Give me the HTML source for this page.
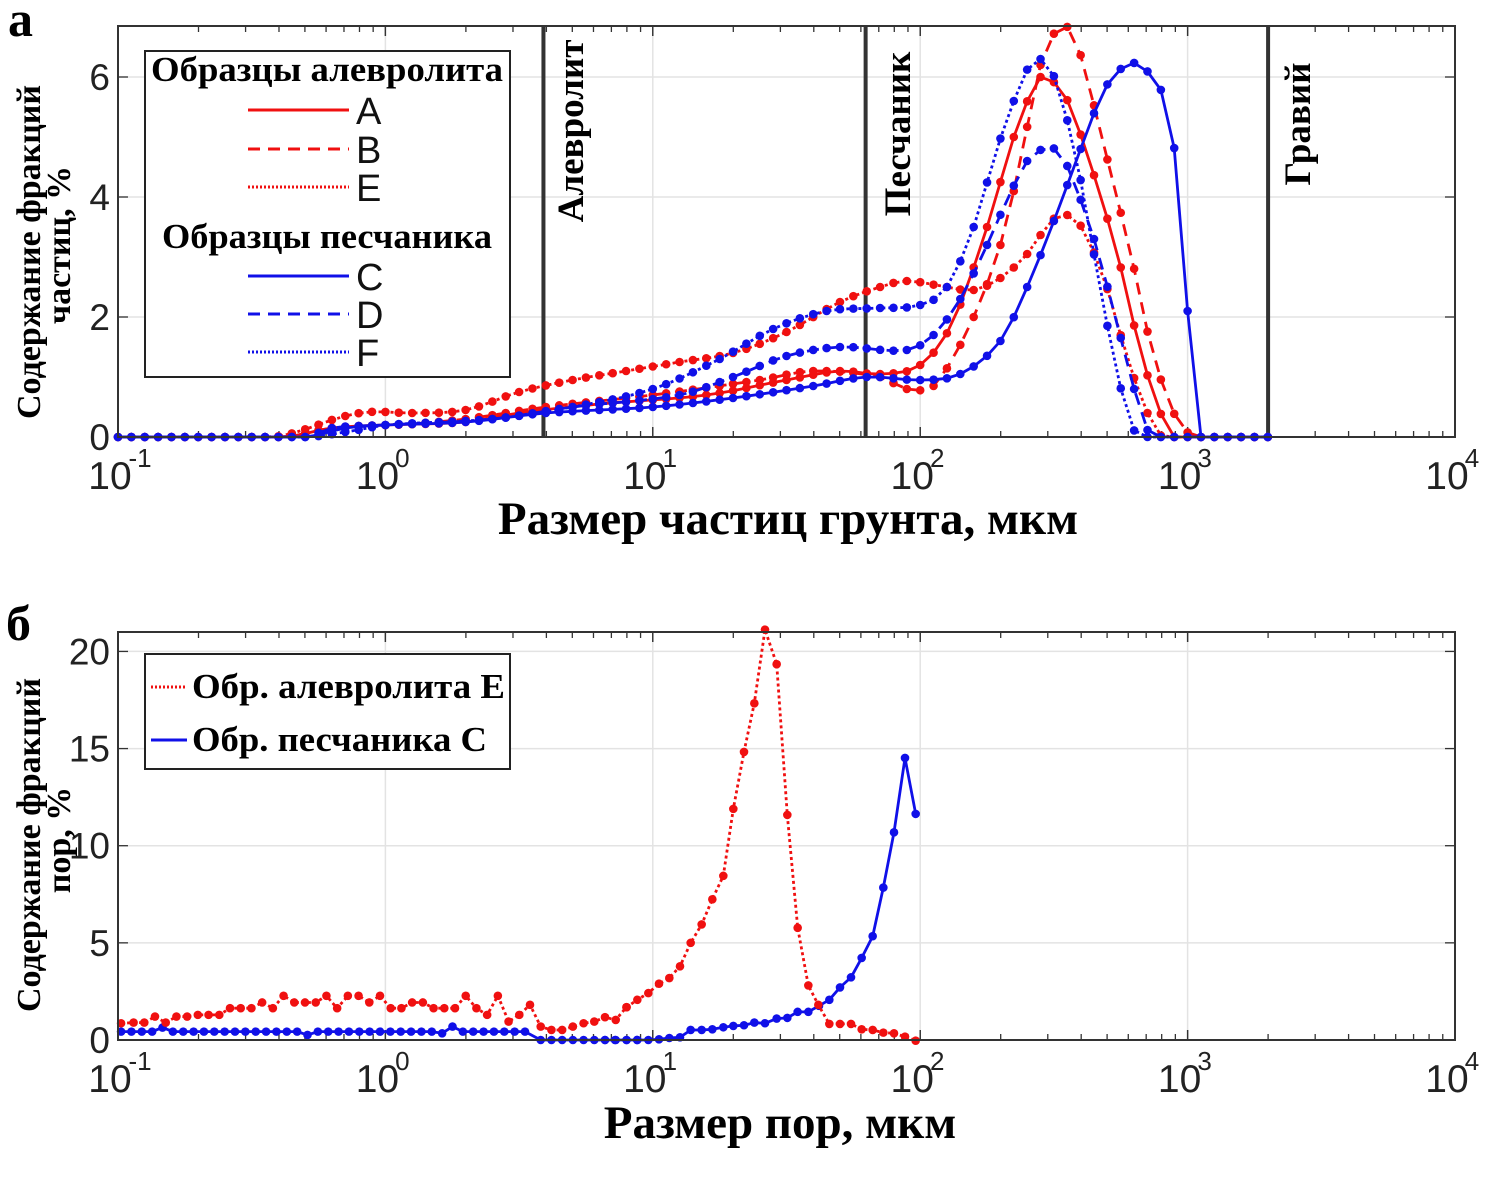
<!DOCTYPE html>
<html><head><meta charset="utf-8">
<style>
html,body{margin:0;padding:0;background:#fff;}
svg{display:block;}
.serif{font-family:"Liberation Serif","DejaVu Serif",serif;font-weight:bold;}
.sans{font-family:"Liberation Sans","DejaVu Sans",sans-serif;}
</style></head>
<body>
<svg id="s" width="1494" height="1180" xmlns="http://www.w3.org/2000/svg">
<rect width="1494" height="1180" fill="#fff"/>
<g id="g1"></g>
<g id="g2"></g>
<text x="8" y="36" class="serif" font-size="50">а</text>
<text x="6" y="640" class="serif" font-size="50">б</text>
<text class="serif" font-size="34" transform="translate(40,252) rotate(-90)" text-anchor="middle">Содержание фракций</text>
<text class="serif" font-size="34" transform="translate(70,245) rotate(-90)" text-anchor="middle">частиц, %</text>
<text class="serif" font-size="34" transform="translate(40,845) rotate(-90)" text-anchor="middle">Содержание фракций</text>
<text class="serif" font-size="34" transform="translate(70,840) rotate(-90)" text-anchor="middle">пор, %</text>
<text x="788" y="534" class="serif" font-size="47" text-anchor="middle">Размер частиц грунта, мкм</text>
<text x="780" y="1138" class="serif" font-size="47" text-anchor="middle">Размер пор, мкм</text>
<text class="serif" font-size="37" transform="translate(583,131) rotate(-90)" text-anchor="middle">Алевролит</text>
<text class="serif" font-size="37" transform="translate(910,134) rotate(-90)" text-anchor="middle">Песчаник</text>
<text class="serif" font-size="37" transform="translate(1310,124) rotate(-90)" text-anchor="middle">Гравий</text>
</svg>
<script>
const NS="http://www.w3.org/2000/svg";
function el(p,t,a,txt){const e=document.createElementNS(NS,t);for(const k in a)e.setAttribute(k,a[k]);if(txt!==undefined)e.textContent=txt;p.appendChild(e);return e;}
const X0=118,DEC=267.4;
function px(l){return X0+(l+1)*DEC;}
function axes(g,top,bot,ymax,yticks){
  const sc=(bot-top)/ymax;
  const Y=v=>bot-v*sc;
  for(let d=0;d<=5;d++){const x=px(d-1);el(g,'line',{x1:x,x2:x,y1:top,y2:bot,stroke:'#e3e3e3','stroke-width':1.5});}
  yticks.forEach(v=>el(g,'line',{x1:X0,x2:px(4),y1:Y(v),y2:Y(v),stroke:'#e3e3e3','stroke-width':1.5}));
  for(let d=-1;d<4;d++){for(let m=1;m<=10;m++){const x=px(d+Math.log10(m));const L=(m==1||m==10)?10:6;
    el(g,'line',{x1:x,x2:x,y1:top,y2:top+L,stroke:'#333','stroke-width':1.3});
    el(g,'line',{x1:x,x2:x,y1:bot,y2:bot-L,stroke:'#333','stroke-width':1.3});}}
  yticks.forEach(v=>{el(g,'line',{x1:X0,x2:X0+10,y1:Y(v),y2:Y(v),stroke:'#333','stroke-width':1.3});
    el(g,'line',{x1:px(4),x2:px(4)-10,y1:Y(v),y2:Y(v),stroke:'#333','stroke-width':1.3});
    el(g,'text',{x:110,y:Y(v)+13,'text-anchor':'end','font-size':37,class:'sans',fill:'#222'},String(v));});
  for(let d=-1;d<=4;d++){const x=px(d);el(g,'text',{x:x-8,y:bot+52,'text-anchor':'middle','font-size':39,class:'sans',fill:'#222'},'10');
    el(g,'text',{x:x+(d<0?22:17),y:bot+30,'text-anchor':'middle','font-size':26,class:'sans',fill:'#222'},String(d));}
  return Y;
}
function hermite(cp,l){
  if(l<=cp[0][0])return cp[0][1];if(l>=cp[cp.length-1][0])return cp[cp.length-1][1];
  let i=0;while(cp[i+1][0]<l)i++;
  const p0=cp[i],p1=cp[i+1];
  const m=k=>{if(k<=0||k>=cp.length-1)return 0;return (cp[k+1][1]-cp[k-1][1])/(cp[k+1][0]-cp[k-1][0]);};
  const h=p1[0]-p0[0],t=(l-p0[0])/h;
  const m0=m(i)*h,m1=m(i+1)*h;
  const t2=t*t,t3=t2*t;
  return Math.max(0,(2*t3-3*t2+1)*p0[1]+(t3-2*t2+t)*m0+(-2*t3+3*t2)*p1[1]+(t3-t2)*m1);
}
function series(g,pts,color,dash){
  const d=pts.map((p,i)=>(i?'L':'M')+p[0].toFixed(1)+','+p[1].toFixed(1)).join('');
  const a={d:d,fill:'none',stroke:color,'stroke-width':2.8,'stroke-linejoin':'round'};
  if(dash)a['stroke-dasharray']=dash;
  el(g,'path',a);
  pts.forEach(p=>el(g,'circle',{cx:p[0],cy:p[1],r:4.3,fill:color}));
}
const g1=document.getElementById('g1');
const Y1=axes(g1,26,437,6.85,[0,2,4,6]);
const R='#f01010',B='#1010e8';
const curves=[
 [R,null,[[-1,0],[-0.38,0],[-0.2,0.15],[0,0.2],[0.3,0.25],[0.5,0.4],[0.8,0.55],[1.2,0.7],[1.5,0.95],[1.7,1.1],[1.85,1.05],[2.0,1.2],[2.12,1.9],[2.25,3.5],[2.35,5.0],[2.42,5.8],[2.45,6.0],[2.54,5.7],[2.64,4.5],[2.74,3.0],[2.82,1.5],[2.89,0.5],[2.95,0],[3.3,0]]],
 [R,'12,8',[[-1,0],[-0.38,0],[-0.2,0.15],[0.1,0.22],[0.3,0.3],[0.6,0.5],[1.0,0.7],[1.4,0.95],[1.6,1.1],[1.85,1.0],[1.95,0.8],[2.05,0.85],[2.12,1.3],[2.2,2.0],[2.3,3.2],[2.37,4.5],[2.45,6.2],[2.53,6.85],[2.59,6.5],[2.69,4.8],[2.79,3.0],[2.87,1.4],[2.96,0.3],[3.04,0],[3.3,0]]],
 [R,'3,3',[[-1,0],[-0.42,0],[-0.15,0.35],[-0.05,0.42],[0.1,0.4],[0.3,0.45],[0.5,0.75],[0.7,0.95],[0.9,1.1],[1.1,1.25],[1.3,1.4],[1.5,1.75],[1.7,2.25],[1.85,2.5],[1.95,2.6],[2.1,2.5],[2.2,2.45],[2.3,2.65],[2.4,3.05],[2.49,3.6],[2.55,3.7],[2.61,3.45],[2.69,2.6],[2.77,1.4],[2.84,0.5],[2.91,0],[3.3,0]]],
 [B,null,[[-1,0],[-0.3,0],[-0.15,0.15],[0,0.2],[0.3,0.25],[0.6,0.4],[1.0,0.5],[1.3,0.65],[1.6,0.85],[1.8,1.0],[2.0,0.95],[2.15,1.05],[2.3,1.6],[2.4,2.5],[2.5,3.6],[2.6,4.8],[2.69,5.8],[2.77,6.2],[2.82,6.2],[2.88,5.9],[2.94,5.2],[3.0,2.1],[3.05,0],[3.3,0]]],
 [B,'12,8',[[-1,0],[-0.3,0],[-0.2,0.15],[0,0.2],[0.4,0.3],[0.7,0.5],[1.1,0.7],[1.3,1.0],[1.5,1.35],[1.7,1.5],[1.95,1.45],[2.05,1.7],[2.15,2.3],[2.25,3.2],[2.33,4.0],[2.4,4.6],[2.46,4.8],[2.52,4.75],[2.57,4.3],[2.65,3.3],[2.73,2.0],[2.8,0.8],[2.87,0],[3.3,0]]],
 [B,'3,3',[[-1,0],[-0.3,0],[-0.1,0.12],[0,0.2],[0.4,0.3],[0.7,0.5],[1.0,0.8],[1.25,1.3],[1.45,1.8],[1.65,2.1],[1.85,2.15],[2.0,2.2],[2.1,2.5],[2.2,3.5],[2.28,4.7],[2.35,5.6],[2.41,6.2],[2.45,6.3],[2.51,5.9],[2.59,4.5],[2.66,2.8],[2.73,1.2],[2.79,0.2],[2.84,0],[3.3,0]]]
];
[Math.log10(3.9),Math.log10(62.5),Math.log10(2000)].forEach(l=>el(g1,'line',{x1:px(l),x2:px(l),y1:26,y2:437,stroke:'#333','stroke-width':4}));
curves.forEach(c=>{const pts=[];for(let l=-1;l<=3.301;l+=0.05){pts.push([px(l),Y1(hermite(c[2],l))]);}series(g1,pts,c[0],c[1]);});
el(g1,'rect',{x:118,y:26,width:px(4)-118,height:411,fill:'none',stroke:'#333','stroke-width':2});
const lg=el(g1,'g',{});
el(lg,'rect',{x:145,y:51,width:365,height:326,fill:'#fff',stroke:'#222','stroke-width':2});
el(lg,'text',{x:327,y:81,'text-anchor':'middle','font-size':35,class:'serif',textLength:352,lengthAdjust:'spacingAndGlyphs'},'Образцы алевролита');
el(lg,'text',{x:327,y:248,'text-anchor':'middle','font-size':35,class:'serif',textLength:330,lengthAdjust:'spacingAndGlyphs'},'Образцы песчаника');
[[R,null,110,'A'],[R,'12,8',149,'B'],[R,'2,2',187,'E'],[B,null,276,'C'],[B,'12,8',314,'D'],[B,'2,2',352,'F']].forEach(r=>{
  const a={x1:248,x2:349,y1:r[2],y2:r[2],stroke:r[0],'stroke-width':3};if(r[1])a['stroke-dasharray']=r[1];el(lg,'line',a);
  el(lg,'text',{x:356,y:r[2]+14,'font-size':38,class:'sans',fill:'#111'},r[3]);});
const g2=document.getElementById('g2');
const Y2=axes(g2,632,1040,21,[0,5,10,15,20]);
const v=zy=>(1320-zy)/58;
const redLow=[[115,1270],[150,1268],[180,1268],[210,1250],[240,1268],[270,1250],[300,1250],[330,1245],[360,1245],[390,1245],[420,1225],[450,1225],[480,1225],[510,1208],[540,1225],[570,1188],[600,1208],[630,1208],[660,1208],[690,1188],[720,1225],[750,1188],[780,1188],[810,1208],[840,1188],[870,1225],[900,1225],[930,1208],[960,1208],[990,1225],[1020,1225],[1050,1225],[1080,1188],[1110,1225],[1140,1245],[1170,1188],[1200,1265],[1230,1245],[1260,1215],[1290,1280],[1320,1290],[1350,1290],[1380,1280],[1410,1270],[1440,1265],[1470,1252],[1500,1260],[1530,1222]].map(p=>[80+p[0]/2.8,Y2(v(p[1]))]);
const redHigh=[[80,1222],[112,1200],[145,1180],[177,1152],[208,1135],[240,1100],[272,1030],[305,975],[337,900],[370,830],[400,630],[432,460],[463,315],[495,95],[530,198],[562,648],[593,985],[625,1157],[655,1215],[688,1272],[720,1272],[753,1272],[785,1288],[818,1290],[850,1298],[882,1300],[915,1310],[947,1322]].map(p=>[600+p[0]/3,Y2(v(p[1]))]);
const blueLow=[];for(let zx=115;zx<=1260;zx+=29){let zy=1295;if(Math.abs(zx-231)<15)zy=1283;if(Math.abs(zx-637)<15)zy=1305;if(Math.abs(zx-1014)<15)zy=1300;if(Math.abs(zx-1043)<15)zy=1280;blueLow.push([80+zx/2.8,Y2(v(zy))]);}
const blueHigh0=[];for(let zx=1290;zx<=1568;zx+=30)blueHigh0.push([80+zx/2.8,Y2(0)]);
const blueHigh=[[15,1322],[45,1320],[80,1322],[112,1322],[145,1322],[177,1318],[208,1314],[240,1312],[272,1290],[305,1290],[337,1288],[370,1282],[400,1278],[432,1276],[463,1268],[495,1270],[530,1256],[562,1254],[593,1236],[625,1236],[657,1218],[688,1200],[720,1163],[753,1133],[785,1075],[818,1010],[850,865],[882,700],[915,478],[947,645]].map(p=>[600+p[0]/3,Y2(Math.max(0,v(p[1])))]);
series(g2,blueLow.concat(blueHigh0,blueHigh),B,null);
series(g2,redLow.concat(redHigh),R,'3,3');
el(g2,'rect',{x:118,y:632,width:px(4)-118,height:408,fill:'none',stroke:'#333','stroke-width':2});
el(g2,'rect',{x:145,y:654,width:365,height:115,fill:'#fff',stroke:'#222','stroke-width':2});
el(g2,'line',{x1:151,x2:187,y1:687,y2:687,stroke:R,'stroke-width':3,'stroke-dasharray':'2,2'});
el(g2,'line',{x1:151,x2:187,y1:740,y2:740,stroke:B,'stroke-width':3});
el(g2,'text',{x:192,y:698,'font-size':35,class:'serif',textLength:313,lengthAdjust:'spacingAndGlyphs'},'Обр. алевролита E');
el(g2,'text',{x:192,y:751,'font-size':35,class:'serif',textLength:295,lengthAdjust:'spacingAndGlyphs'},'Обр. песчаника C');
</script>
</body></html>
